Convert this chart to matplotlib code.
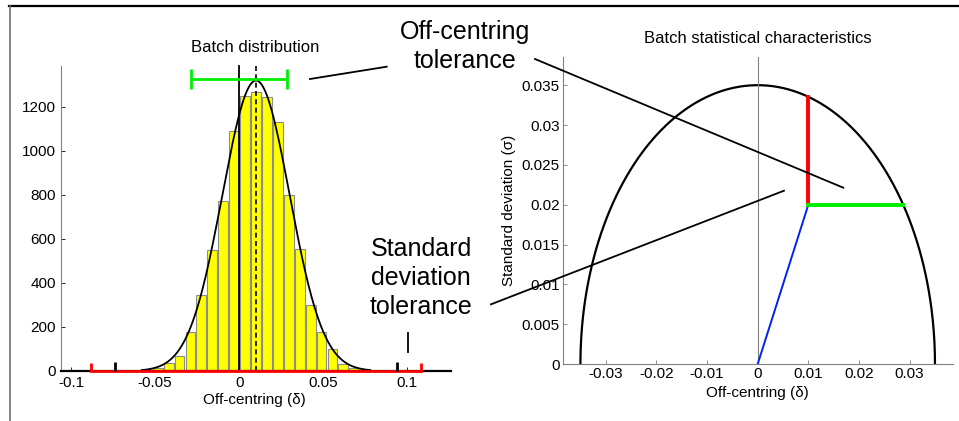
import numpy as np
import matplotlib
matplotlib.use('Agg')
import matplotlib.pyplot as plt
from matplotlib.lines import Line2D

plt.rcParams['font.family'] = ['Liberation Sans', 'DejaVu Sans']

# Histogram of the batch
bin_centers = [-0.055, -0.0485, -0.042, -0.0355, -0.029, -0.0225, -0.016, -0.0095,
               -0.003, 0.0035, 0.01, 0.0165, 0.023, 0.0295, 0.036, 0.0425, 0.049,
               0.0555, 0.062, 0.0685, 0.075]
counts = [4, 12, 35, 68, 175, 345, 550, 773, 1091, 1249, 1268, 1243, 1130, 800,
          553, 298, 177, 98, 31, 12, 5]
bin_width = 0.0065

# fitted normal and tolerances
mean_off = 0.01
sigma = 0.02
fit_peak = 1320
off_tol = 0.0287
red_marks = [-0.088, 0.108]
black_marks = [-0.074, 0.094]

# right panel
radius = 0.035
point = (0.01, 0.02)

left_xticks = [-0.1, -0.05, 0, 0.05, 0.1]
left_xlabels = ['-0.1', '-0.05', '0', '0.05', '0.1']
left_yticks = [0, 200, 400, 600, 800, 1000, 1200]
right_xticks = [-0.03, -0.02, -0.01, 0, 0.01, 0.02, 0.03]
right_xlabels = ['-0.03', '-0.02', '-0.01', '0', '0.01', '0.02', '0.03']
right_yticks = [0, 0.005, 0.01, 0.015, 0.02, 0.025, 0.03, 0.035]
right_ylabels = ['0', '0.005', '0.01', '0.015', '0.02', '0.025', '0.03', '0.035']

W, H = 959, 421
fig = plt.figure(figsize=(W / 100, H / 100), dpi=100)


def fig_box(x0, y0, x1, y1):
    return [x0 / W, 1 - y1 / H, (x1 - x0) / W, (y1 - y0) / H]


# ---- left: batch distribution
ax1 = fig.add_axes(fig_box(61, 66, 451, 371))
ax1.bar(bin_centers, counts, width=bin_width * 0.9, color='#ffff00',
        edgecolor='#8c8c8c', linewidth=0.8, zorder=2)
xs = np.linspace(mean_off - 0.068, mean_off + 0.068, 300)
ax1.plot(xs, fit_peak * np.exp(-(xs - mean_off) ** 2 / (2 * sigma ** 2)),
         color='black', lw=1.3, zorder=4)
ylim_top = fit_peak * 1.05
ax1.plot([0, 0], [0, ylim_top], color='black', lw=1.3, zorder=3, clip_on=False)
ax1.plot([mean_off, mean_off], [0, ylim_top], color='black', lw=1.2,
         ls=(0, (3, 2)), zorder=3, clip_on=False)
ax1.errorbar([0], [1327], xerr=[[off_tol], [off_tol]], color='#00ee00',
             lw=2, capsize=7, capthick=2, zorder=5, clip_on=False)
ax1.plot(red_marks, [0, 0], color='red', lw=2, zorder=6, clip_on=False)
ax1.vlines(red_marks, 0, 36, color='red', lw=2, zorder=6, clip_on=False)
ax1.vlines(black_marks, 0, 42, color='black', lw=2, zorder=6, clip_on=False)

ax1.set_xlim(-0.106, 0.126)
ax1.set_ylim(0, ylim_top)
ax1.set_xticks(left_xticks)
ax1.set_xticklabels(left_xlabels)
ax1.set_yticks(left_yticks)
ax1.tick_params(direction='in', length=3, width=0.6, labelsize=11, pad=3.5)
for s in ['top', 'right']:
    ax1.spines[s].set_visible(False)
ax1.spines['left'].set_color('#808080')
ax1.spines['bottom'].set_linewidth(1.6)
ax1.text(0.497, 1.062, 'Batch distribution', transform=ax1.transAxes,
         ha='center', va='center', fontsize=12)
ax1.set_xlabel('Off-centring (\u03b4)', fontsize=11)
ax1.xaxis.label.set_va('center')
ax1.xaxis.set_label_coords(0.497, -0.095)

# ---- right: batch statistical characteristics
ax2 = fig.add_axes(fig_box(562.7, 57.3, 952.7, 364))
th = np.linspace(0, np.pi, 400)
ax2.plot(radius * np.cos(th), radius * np.sin(th), color='black', lw=1.6)
ax2.plot([0, 0], [0, radius * 1.1], color='#808080', lw=0.8)
ax2.plot([0, point[0]], [0, point[1]], color='#0022ee', lw=1.4)
ax2.plot([point[0], point[0]], [point[1], np.sqrt(radius ** 2 - point[0] ** 2)],
         color='red', lw=2.8)
ax2.plot([point[0], np.sqrt(radius ** 2 - point[1] ** 2)], [point[1], point[1]],
         color='#00ee00', lw=2.8)
ax2.set_xlim(-radius * 1.1, radius * 1.1)
ax2.set_ylim(0, radius * 1.1)
ax2.set_xticks(right_xticks)
ax2.set_xticklabels(right_xlabels)
ax2.set_yticks(right_yticks)
ax2.set_yticklabels(right_ylabels)
ax2.tick_params(direction='in', length=3, width=0.6, color='#808080',
                labelsize=11, pad=2)
for s in ['top', 'right']:
    ax2.spines[s].set_visible(False)
for s in ['left', 'bottom']:
    ax2.spines[s].set_color('#808080')
ax2.text(0.5, 1.06, 'Batch statistical characteristics', transform=ax2.transAxes,
         ha='center', va='center', fontsize=12)
ax2.set_xlabel('Off-centring (\u03b4)', fontsize=11)
ax2.xaxis.label.set_va('center')
ax2.xaxis.set_label_coords(0.5, -0.094)
ax2.set_ylabel('Standard deviation (\u03c3)', fontsize=11)
ax2.yaxis.label.set_va('center')
ax2.yaxis.set_label_coords(-0.138, 0.5)

# ---- frame and call-outs (figure pixels)
def fig_line(x0, y0, x1, y1, **kw):
    fig.add_artist(Line2D([x0 / W, x1 / W], [1 - y0 / H, 1 - y1 / H],
                          transform=fig.transFigure, **kw))


fig_line(9, 6, W, 6, color='black', lw=1.6)
fig_line(10, 6, 10, H, color='#707070', lw=1.2)
fig_line(310, 79, 386.7, 66.7, color='black', lw=1.3)
fig_line(535, 59, 843.3, 187.7, color='black', lw=1.3)
fig_line(491, 304.3, 784, 190.7, color='black', lw=1.3)
fig_line(408.3, 333.3, 408.3, 351.7, color='black', lw=1.3)

fig.text(465 / W, 1 - 46.5 / H, 'Off-centring\ntolerance', ha='center',
         va='center', fontsize=18, linespacing=1.3)
fig.text(421 / W, 1 - 278 / H, 'Standard\ndeviation\ntolerance', ha='center',
         va='center', fontsize=18, linespacing=1.25)

fig.savefig('out.png', dpi=100)
